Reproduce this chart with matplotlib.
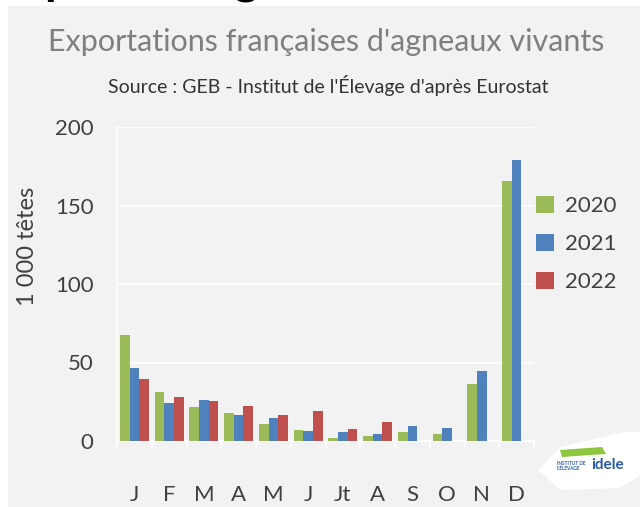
import numpy as np
import matplotlib
matplotlib.use("Agg")
import matplotlib.pyplot as plt
from matplotlib.patches import Rectangle, Polygon

months = ["J", "F", "M", "A", "M", "J", "Jt", "A", "S", "O", "N", "D"]
years = ["2020", "2021", "2022"]
v2020 = [67.5, 31.4, 21.4, 17.6, 10.6, 7.0, 1.9, 3.2, 5.5, 4.5, 36.1, 165.5]
v2021 = [46.7, 24.2, 26.1, 16.8, 14.4, 6.4, 5.5, 4.5, 9.3, 8.1, 44.4, 179.0]
v2022 = [39.3, 28.0, 25.5, 22.3, 16.3, 19.1, 7.4, 12.1, None, None, None, None]
colors = ["#9BBB59", "#4F81BD", "#C0504D"]

plt.rcParams['font.family'] = ['Lato', 'DejaVu Sans']

W, H = 640, 507
fig = plt.figure(figsize=(W / 100, H / 100), dpi=100, facecolor="white")


def fx(x):
    return x / W


def fy(y):
    return 1 - y / H


# grey panel
fig.add_artist(Rectangle((fx(8), 0), 1 - fx(8), fy(6), transform=fig.transFigure,
                         facecolor="#F2F2F2", edgecolor="none", zorder=0))

# clipped slide heading above the chart (only the descenders show)
fig.text(fx(44), fy(-6), "p", fontsize=34, fontweight="bold", color="black",
         ha="left", va="baseline")
fig.text(fx(234), fy(-6), "g", fontsize=34, fontweight="bold", color="black",
         ha="left", va="baseline")

ax = fig.add_axes([fx(117), fy(441), fx(534) - fx(117), fy(127) - fy(441)])
ax.set_facecolor("#F2F2F2")

x = np.arange(len(months))
w = 0.28
series = [v2020, v2021, v2022]
for j, (vals, c, yr) in enumerate(zip(series, colors, years)):
    h = np.array([np.nan if v is None else v for v in vals], dtype=float)
    ax.bar(x + (j - 1) * w, h, width=w, color=c, edgecolor="none", label=yr, zorder=3)

ax.set_xlim(-0.5, len(months) - 0.5)
ax.set_ylim(0, 200)
ax.set_yticks([0, 50, 100, 150, 200])
ax.grid(axis="y", color="white", linewidth=1.2, zorder=1)
for s in ["top", "right"]:
    ax.spines[s].set_visible(False)
ax.spines["left"].set_color("white")
ax.spines["bottom"].set_color("white")
ax.spines["left"].set_linewidth(1.2)
ax.spines["bottom"].set_linewidth(1.2)

ax.set_xticks(np.arange(-0.5, len(months), 1.0))
ax.set_xticklabels([])
ax.tick_params(axis="x", direction="out", length=6, color="white", width=1.2)
ax.set_xticks(x, minor=True)
ax.set_xticklabels(months, minor=True)
ax.tick_params(axis="x", which="minor", length=0, pad=32, labelsize=16, labelcolor="#404040")
ax.tick_params(axis="y", length=0, pad=17, labelsize=16, labelcolor="#404040")

ax.set_ylabel("1 000 têtes", fontsize=17, color="#404040")
ax.yaxis.set_label_coords(-0.19, 0.621)

fig.text(0.51, fy(42), "Exportations françaises d'agneaux vivants", fontsize=22,
         color="#7F7F7F", ha="center", va="center")
fig.text(fx(328), fy(85), "Source : GEB - Institut de l'Élevage d'après Eurostat",
         fontsize=14, color="#333333", ha="center", va="center")

leg = ax.legend(loc="center left", bbox_to_anchor=(fx(516), fy(244)),
                bbox_transform=fig.transFigure, frameon=False, fontsize=16,
                handlelength=0.8, handleheight=0.8, handletextpad=0.5,
                labelspacing=0.8, labelcolor="#404040")

# logo
fig.add_artist(Polygon([(fx(538), fy(470)), (fx(560), fy(447)), (fx(625), fy(432)),
                        (fx(640), fy(432)), (fx(640), fy(475)), (fx(620), fy(488)),
                        (fx(560), fy(490))], closed=True, transform=fig.transFigure,
                       facecolor="white", edgecolor="none", zorder=5))
fig.add_artist(Polygon([(fx(560), fy(450)), (fx(602), fy(447)), (fx(606), fy(454)),
                        (fx(562), fy(457))], closed=True, transform=fig.transFigure,
                       facecolor="#8DC63F", edgecolor="none", zorder=6))
fig.text(fx(591), fy(465), "idele", fontsize=11, fontweight="bold", color="#2B5AA7",
         ha="left", va="center", zorder=7)
fig.text(fx(557), fy(466), "INSTITUT DE\nL'ÉLEVAGE", fontsize=3.4, fontweight="bold",
         color="#2B5AA7", ha="left", va="center", zorder=7, linespacing=1.0)

fig.savefig("out.png", dpi=100, facecolor=fig.get_facecolor())
